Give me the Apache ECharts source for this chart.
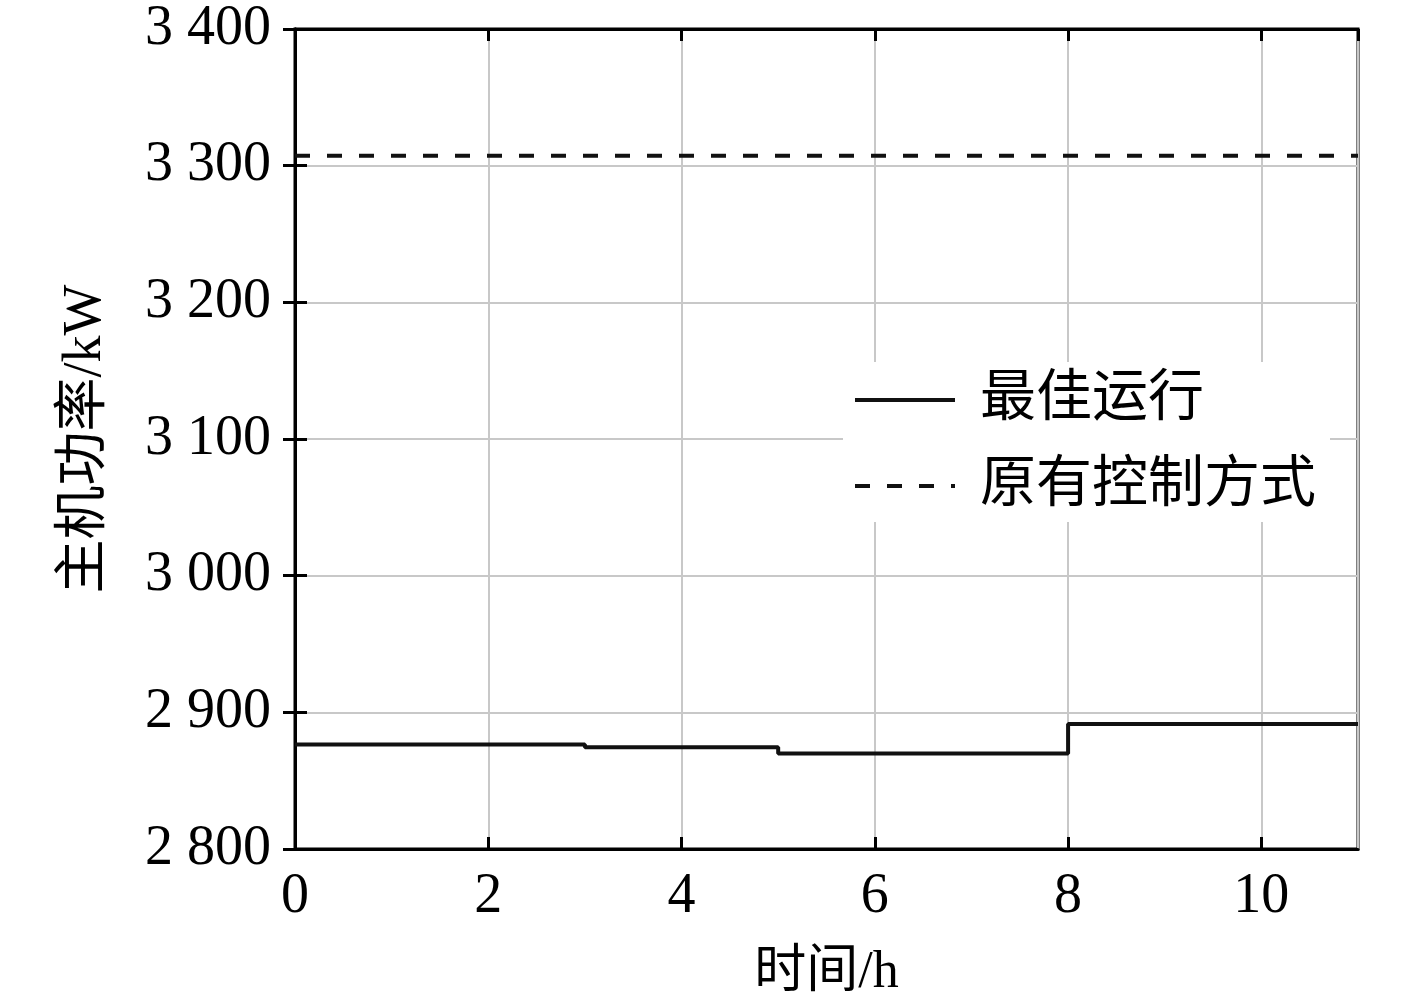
<!DOCTYPE html>
<html><head><meta charset="utf-8">
<script src="https://cdn.jsdelivr.net/npm/echarts@6/dist/echarts.min.js"></script>
<style>html,body{margin:0;padding:0;background:#fff}#c{width:1417px;height:1008px}</style>
</head><body><div id="c"></div>
<script>
const timeH = [0, 3, 5, 8, 11];
const bestPower = [2876.4, 2874.4, 2869.8, 2891.5, 2891.5];
const origTime = [0, 11];
const origPower = [3307.3, 3307.3];
const seriesNames = ['最佳运行', '原有控制方式'];
const xTicks = [0, 2, 4, 6, 8, 10];
const yTicks = [2800, 2900, 3000, 3100, 3200, 3300, 3400];

const FONT = "'Liberation Serif', 'Noto Sans CJK SC', serif";
const chart = echarts.init(document.getElementById('c'), null, {renderer: 'canvas'});
const fmtY = v => { const s = String(Math.round(v)); return s.length > 3 ? s.slice(0, s.length - 3) + ' ' + s.slice(-3) : s; };
const tick = {show: true, inside: true, length: 12, lineStyle: {color: '#000', width: 3}};
const split = {show: true, lineStyle: {color: '#c8c8c8', width: 2}};
chart.setOption({
  animation: false,
  backgroundColor: '#fff',
  grid: {left: 295, right: 59, top: 29, bottom: 159, show: true, borderColor: '#000', borderWidth: 3, backgroundColor: 'transparent'},
  legend: {
    orient: 'vertical', left: 843, top: 362, padding: [6, 14, 4, 10],
    backgroundColor: '#fff', itemWidth: 100, itemHeight: 20, itemGap: 22,
    data: seriesNames,
    itemStyle: {opacity: 0},
    lineStyle: {width: 4},
    textStyle: {fontFamily: FONT, fontSize: 56, color: '#000', lineHeight: 64, padding: [0, 0, 0, 20]}
  },
  xAxis: [{
    type: 'value', min: 0, max: 11, interval: 2,
    name: '时间/h', nameLocation: 'middle', nameGap: 98,
    nameTextStyle: {fontFamily: FONT, fontSize: 52, color: '#000'},
    axisLine: {show: true, lineStyle: {color: '#000', width: 3}},
    axisTick: tick, splitLine: split,
    axisLabel: {fontFamily: FONT, fontSize: 56, color: '#000', margin: 20, showMaxLabel: false,
      formatter: v => xTicks.includes(v) ? String(v) : ''}
  }, {
    type: 'value', min: 0, max: 11, interval: 2, position: 'top',
    axisLine: {show: true, lineStyle: {color: '#000', width: 3}},
    axisTick: tick, splitLine: {show: false}, axisLabel: {show: false}
  }],
  yAxis: [{
    type: 'value', min: 2800, max: 3400, interval: 100,
    name: '主机功率/kW', nameLocation: 'middle', nameGap: 182, nameRotate: 90,
    nameTextStyle: {fontFamily: FONT, fontSize: 54, color: '#000'},
    axisLine: {show: true, lineStyle: {color: '#000', width: 3}},
    axisTick: tick, splitLine: split,
    axisLabel: {fontFamily: FONT, fontSize: 56, color: '#000', margin: 24,
      formatter: v => yTicks.includes(v) ? fmtY(v) : ''}
  }, {
    type: 'value', min: 2800, max: 3400, interval: 100, position: 'right',
    axisLine: {show: true, lineStyle: {color: '#000', width: 3}},
    axisTick: tick, splitLine: {show: false}, axisLabel: {show: false}
  }],
  series: [{
    name: seriesNames[0], type: 'line', step: 'end', symbol: 'none', showSymbol: false,
    data: timeH.map((t, i) => [t, bestPower[i]]),
    lineStyle: {color: '#111', width: 4}, itemStyle: {color: '#111'}, z: 5
  }, {
    name: seriesNames[1], type: 'line', symbol: 'none', showSymbol: false,
    data: origTime.map((t, i) => [t, origPower[i]]),
    lineStyle: {color: '#111', width: 4, type: [15, 17]}, itemStyle: {color: '#111'}, z: 5
  }]
});
</script></body></html>
